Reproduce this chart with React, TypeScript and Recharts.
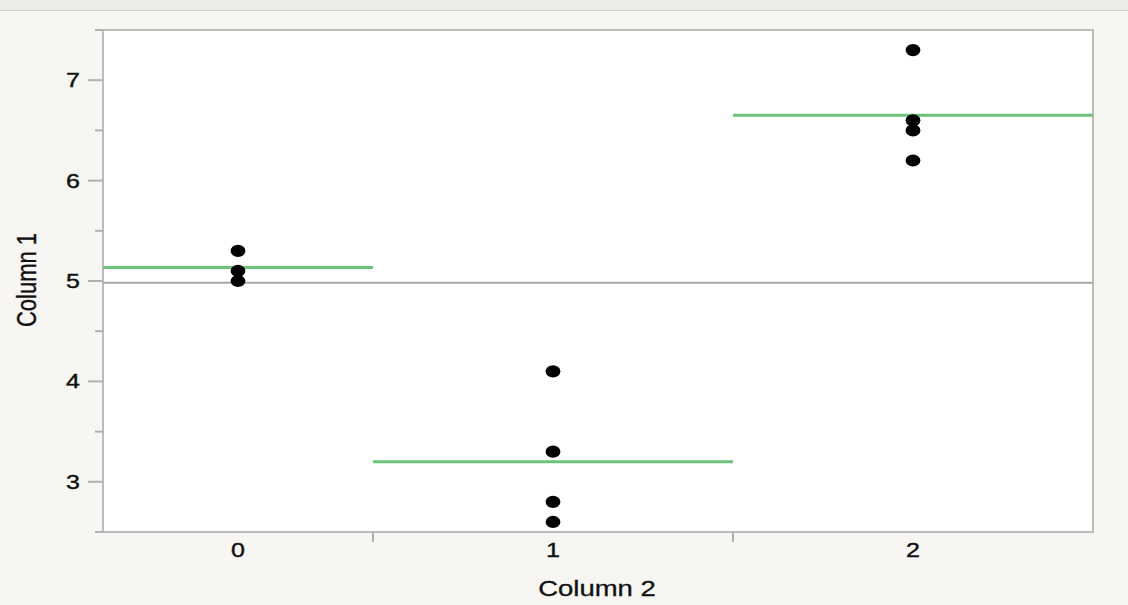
import React from 'react';
import { ComposedChart, Scatter, XAxis, YAxis, ReferenceLine, ReferenceArea, CartesianGrid } from 'recharts';

// one-way layout: each group gets horizontal room proportional to its count
const groupLabels = ['0', '1', '2'];
const group0 = [5.3, 5.1, 5.0];
const group1 = [4.1, 3.3, 2.8, 2.6];
const group2 = [7.3, 6.6, 6.5, 6.2];
const yTicks = [2.5, 3, 3.5, 4, 4.5, 5, 5.5, 6, 6.5, 7, 7.5];

const groups = [group0, group1, group2];

const FONT = '"Liberation Sans", Arial, Helvetica, sans-serif';
const STRETCH = 1.25; // source image is widened horizontally

const mean = (a: number[]) => a.reduce((s, v) => s + v, 0) / a.length;

let start = 0;
const spans = groups.map((g) => {
    const s = { from: start, to: start + g.length, center: start + g.length / 2 };
    start += g.length;
    return s;
});
const total = start;
const allValues = groups.flat();
const grandMean = mean(allValues);

const points = groups.flatMap((g, i) => g.map((v) => ({ x: spans[i].center, y: v })));

const centerTicks = spans.map((s) => s.center);
const sepTicks = spans.slice(0, -1).map((s) => s.to);
const xTicks = [...centerTicks, ...sepTicks].sort((a, b) => a - b);

const Dot = (props: any) => {
    const { cx, cy } = props;
    if (cx == null || cy == null) return null;
    return <ellipse cx={cx} cy={cy} rx={7.4} ry={6.1} fill="#000" />;
};

const XTick = (props: any) => {
    const { x, y, payload } = props;
    const idx = centerTicks.indexOf(payload.value);
    if (idx < 0) {
        return <line x1={x} x2={x} y1={y - 10} y2={y} stroke="#b0b0b0" strokeWidth={2} />;
    }
    return (
        <text
            transform={`translate(${x},${y + 14.5}) scale(${STRETCH},1)`}
            textAnchor="middle"
            fontFamily={FONT}
            fontSize={20}
            fill="#111"
            stroke="#111"
            strokeWidth={0.4}
        >
            {groupLabels[idx]}
        </text>
    );
};

const YTick = (props: any) => {
    const { x, y, payload } = props;
    const major = payload.value % 1 === 0;
    return (
        <g>
            <line x1={major ? x + 8 : x + 15} x2={x + 23} y1={y} y2={y} stroke="#b0b0b0" strokeWidth={2} />
            {major && (
                <text
                    transform={`translate(${x},${y + 7}) scale(${STRETCH},1)`}
                    textAnchor="end"
                    fontFamily={FONT}
                    fontSize={20}
                    fill="#111"
                    stroke="#111"
                    strokeWidth={0.4}
                >
                    {payload.value}
                </text>
            )}
        </g>
    );
};

export default function App() {
    return (
        <div style={{ position: 'absolute', left: 0, top: 0, width: 1128, height: 605, background: '#f7f6f2', overflow: 'hidden' }}>
            <div style={{ position: 'absolute', left: 0, top: 0, width: 1128, height: 10, background: '#ecebe7', borderBottom: '1px solid #d2d2ce' }} />
            <ComposedChart width={1128} height={605} margin={{ top: 30, right: 35, bottom: 0, left: 0 }} style={{ position: 'absolute', left: 0, top: 0 }}>
                <CartesianGrid horizontal={false} vertical={false} fill="#ffffff" />
                <XAxis
                    type="number"
                    dataKey="x"
                    domain={[0, total]}
                    ticks={xTicks}
                    interval={0}
                    height={73}
                    tickSize={10}
                    tickMargin={0}
                    tickLine={false}
                    axisLine={false}
                    tick={<XTick />}
                    allowDataOverflow
                    label={{
                        content: () => (
                            <text
                                transform={`translate(597,596) scale(${STRETCH},1)`}
                                textAnchor="middle"
                                fontFamily={FONT}
                                fontSize={22}
                                fill="#111"
                                stroke="#111"
                                strokeWidth={0.3}
                            >
                                Column 2
                            </text>
                        ),
                    }}
                />
                <YAxis
                    type="number"
                    dataKey="y"
                    domain={[2.5, 7.5]}
                    ticks={yTicks}
                    interval={0}
                    width={103}
                    tickSize={15}
                    tickMargin={8}
                    tickLine={false}
                    axisLine={false}
                    tick={<YTick />}
                    allowDataOverflow
                    label={{
                        content: () => (
                            <text
                                transform={`translate(36,280) scale(${STRETCH},1) rotate(-90)`}
                                textAnchor="middle"
                                fontFamily={FONT}
                                fontSize={22}
                                fill="#111"
                                stroke="#111"
                                strokeWidth={0.3}
                            >
                                Column 1
                            </text>
                        ),
                    }}
                />
                <ReferenceArea x1={0} x2={total} y1={2.5} y2={7.5} fill="none" stroke="#bcbcbc" strokeWidth={2} />
                <ReferenceLine y={grandMean} stroke="#a9a9a9" strokeWidth={2} />
                {groups.map((g, i) => (
                    <ReferenceLine
                        key={i}
                        segment={[
                            { x: spans[i].from, y: mean(g) },
                            { x: spans[i].to, y: mean(g) },
                        ]}
                        stroke="#6cc27b"
                        strokeWidth={3}
                    />
                ))}
                <Scatter data={points} shape={<Dot />} isAnimationActive={false} />
            </ComposedChart>
        </div>
    );
}
